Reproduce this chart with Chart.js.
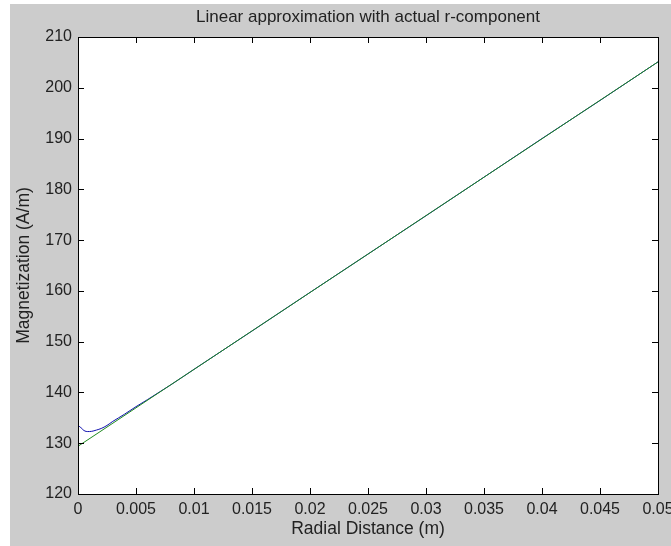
<!DOCTYPE html>
<html>
<head>
<meta charset="utf-8">
<script src="https://cdn.jsdelivr.net/npm/chart.js@4/dist/chart.umd.min.js"></script>
<style>
html,body{margin:0;padding:0;background:#fff;}
#wrap{width:671px;height:546px;position:relative;}
</style>
</head>
<body>
<div id="wrap"><canvas id="c" width="671" height="546"></canvas></div>
<script>
// ---- data ----
const xTicks = [0, 0.005, 0.01, 0.015, 0.02, 0.025, 0.03, 0.035, 0.04, 0.045, 0.05];
const xTickLabels = ['0', '0.005', '0.01', '0.015', '0.02', '0.025', '0.03', '0.035', '0.04', '0.045', '0.05'];
const yTicks = [120, 130, 140, 150, 160, 170, 180, 190, 200, 210];
const yTickLabels = ['120', '130', '140', '150', '160', '170', '180', '190', '200', '210'];

const actualX = [0, 0.0002, 0.0004, 0.0006, 0.0008, 0.001, 0.0013, 0.0016, 0.002, 0.0025, 0.003, 0.0035, 0.004, 0.005, 0.006, 0.007, 0.008, 0.01, 0.015, 0.02, 0.025, 0.03, 0.035, 0.04, 0.045, 0.05];
const actualR = [133.4, 133.2, 132.7, 132.4, 132.3, 132.3, 132.4, 132.6, 132.9, 133.5, 134.3, 135.0, 135.7, 137.2, 138.6, 140.05, 141.5, 144.55, 152.1, 159.7, 167.25, 174.8, 182.4, 190.0, 197.5, 205.1];

const linearX = [0, 0.05];
const linearR = [129.4, 205.1];

const TITLE = 'Linear approximation with actual r-component';
const FONT = 'Liberation Sans, Arial, sans-serif';

const boxPlugin = {
  id: 'matlabBox',
  beforeDraw(chart) {
    const ctx = chart.ctx;
    const a = chart.chartArea;
    ctx.save();
    ctx.fillStyle = '#ffffff';
    ctx.fillRect(0, 0, chart.width, chart.height);
    ctx.fillStyle = '#cccccc';
    ctx.fillRect(10, 4, chart.width - 10, chart.height - 4);
    ctx.fillStyle = '#ffffff';
    ctx.fillRect(a.left, a.top, a.right - a.left, a.bottom - a.top);
    ctx.restore();
  },
  afterDraw(chart) {
    const ctx = chart.ctx;
    const a = chart.chartArea;
    const xs = chart.scales.x, ys = chart.scales.y;
    const L = 6;
    ctx.save();
    ctx.strokeStyle = '#000000';
    ctx.lineWidth = 1;
    ctx.beginPath();
    xTicks.forEach(v => {
      const px = Math.round(xs.getPixelForValue(v)) + 0.5;
      ctx.moveTo(px, a.bottom); ctx.lineTo(px, a.bottom - L);
      ctx.moveTo(px, a.top); ctx.lineTo(px, a.top + L);
    });
    yTicks.forEach(v => {
      const py = Math.round(ys.getPixelForValue(v)) + 0.5;
      ctx.moveTo(a.left, py); ctx.lineTo(a.left + L, py);
      ctx.moveTo(a.right, py); ctx.lineTo(a.right - L, py);
    });
    ctx.stroke();
    ctx.strokeRect(a.left + 0.5, a.top + 0.5, a.right - a.left, a.bottom - a.top);
    // title centred over the axes box
    ctx.fillStyle = '#222222';
    ctx.font = '17px ' + FONT;
    ctx.textAlign = 'center';
    ctx.textBaseline = 'middle';
    ctx.fillText(TITLE, (a.left + a.right) / 2, 17);
    ctx.restore();
  }
};

new Chart(document.getElementById('c'), {
  type: 'line',
  data: {
    datasets: [
      {
        label: 'Linear approximation',
        data: linearX.map((x, i) => ({x: x, y: linearR[i]})),
        borderColor: '#1f8a1f',
        borderWidth: 1,
        pointRadius: 0,
        tension: 0
      },
      {
        label: 'Actual r-component',
        data: actualX.map((x, i) => ({x: x, y: actualR[i]})),
        borderColor: '#1010b0',
        borderWidth: 1,
        pointRadius: 0,
        cubicInterpolationMode: 'monotone'
      }
    ]
  },
  options: {
    responsive: false,
    animation: false,
    devicePixelRatio: 1,
    layout: { padding: { left: 0, right: 13, top: 37, bottom: 0 } },
    plugins: {
      legend: { display: false },
      tooltip: { enabled: false },
      title: { display: false }
    },
    scales: {
      x: {
        type: 'linear',
        min: 0,
        max: 0.05,
        grid: { display: false, drawTicks: false },
        border: { display: false },
        afterBuildTicks: s => { s.ticks = xTicks.map(v => ({value: v})); },
        afterFit: s => { s.height = 52; s.paddingLeft = 0; s.paddingRight = 0; },
        ticks: {
          padding: 6,
          maxRotation: 0,
          autoSkip: false,
          color: '#222222',
          font: { family: FONT, size: 16 },
          callback: (v, i) => xTickLabels[i]
        },
        title: {
          display: true,
          text: 'Radial Distance (m)',
          color: '#222222',
          font: { family: FONT, size: 17.5, lineHeight: 1.2 },
          padding: { top: 0, bottom: 6.5 }
        }
      },
      y: {
        type: 'linear',
        min: 120,
        max: 210,
        grid: { display: false, drawTicks: false },
        border: { display: false },
        afterBuildTicks: s => { s.ticks = yTicks.map(v => ({value: v})); },
        afterFit: s => { s.width = 78; s.paddingTop = 0; s.paddingBottom = 0; },
        ticks: {
          padding: 6,
          autoSkip: false,
          color: '#222222',
          font: { family: FONT, size: 16 },
          callback: (v, i) => yTickLabels[i]
        },
        title: {
          display: true,
          text: 'Magnetization (A/m)',
          color: '#222222',
          font: { family: FONT, size: 17.5, lineHeight: 1.2 },
          padding: { top: 14, bottom: 0 }
        }
      }
    }
  },
  plugins: [boxPlugin]
});
</script>
</body>
</html>
